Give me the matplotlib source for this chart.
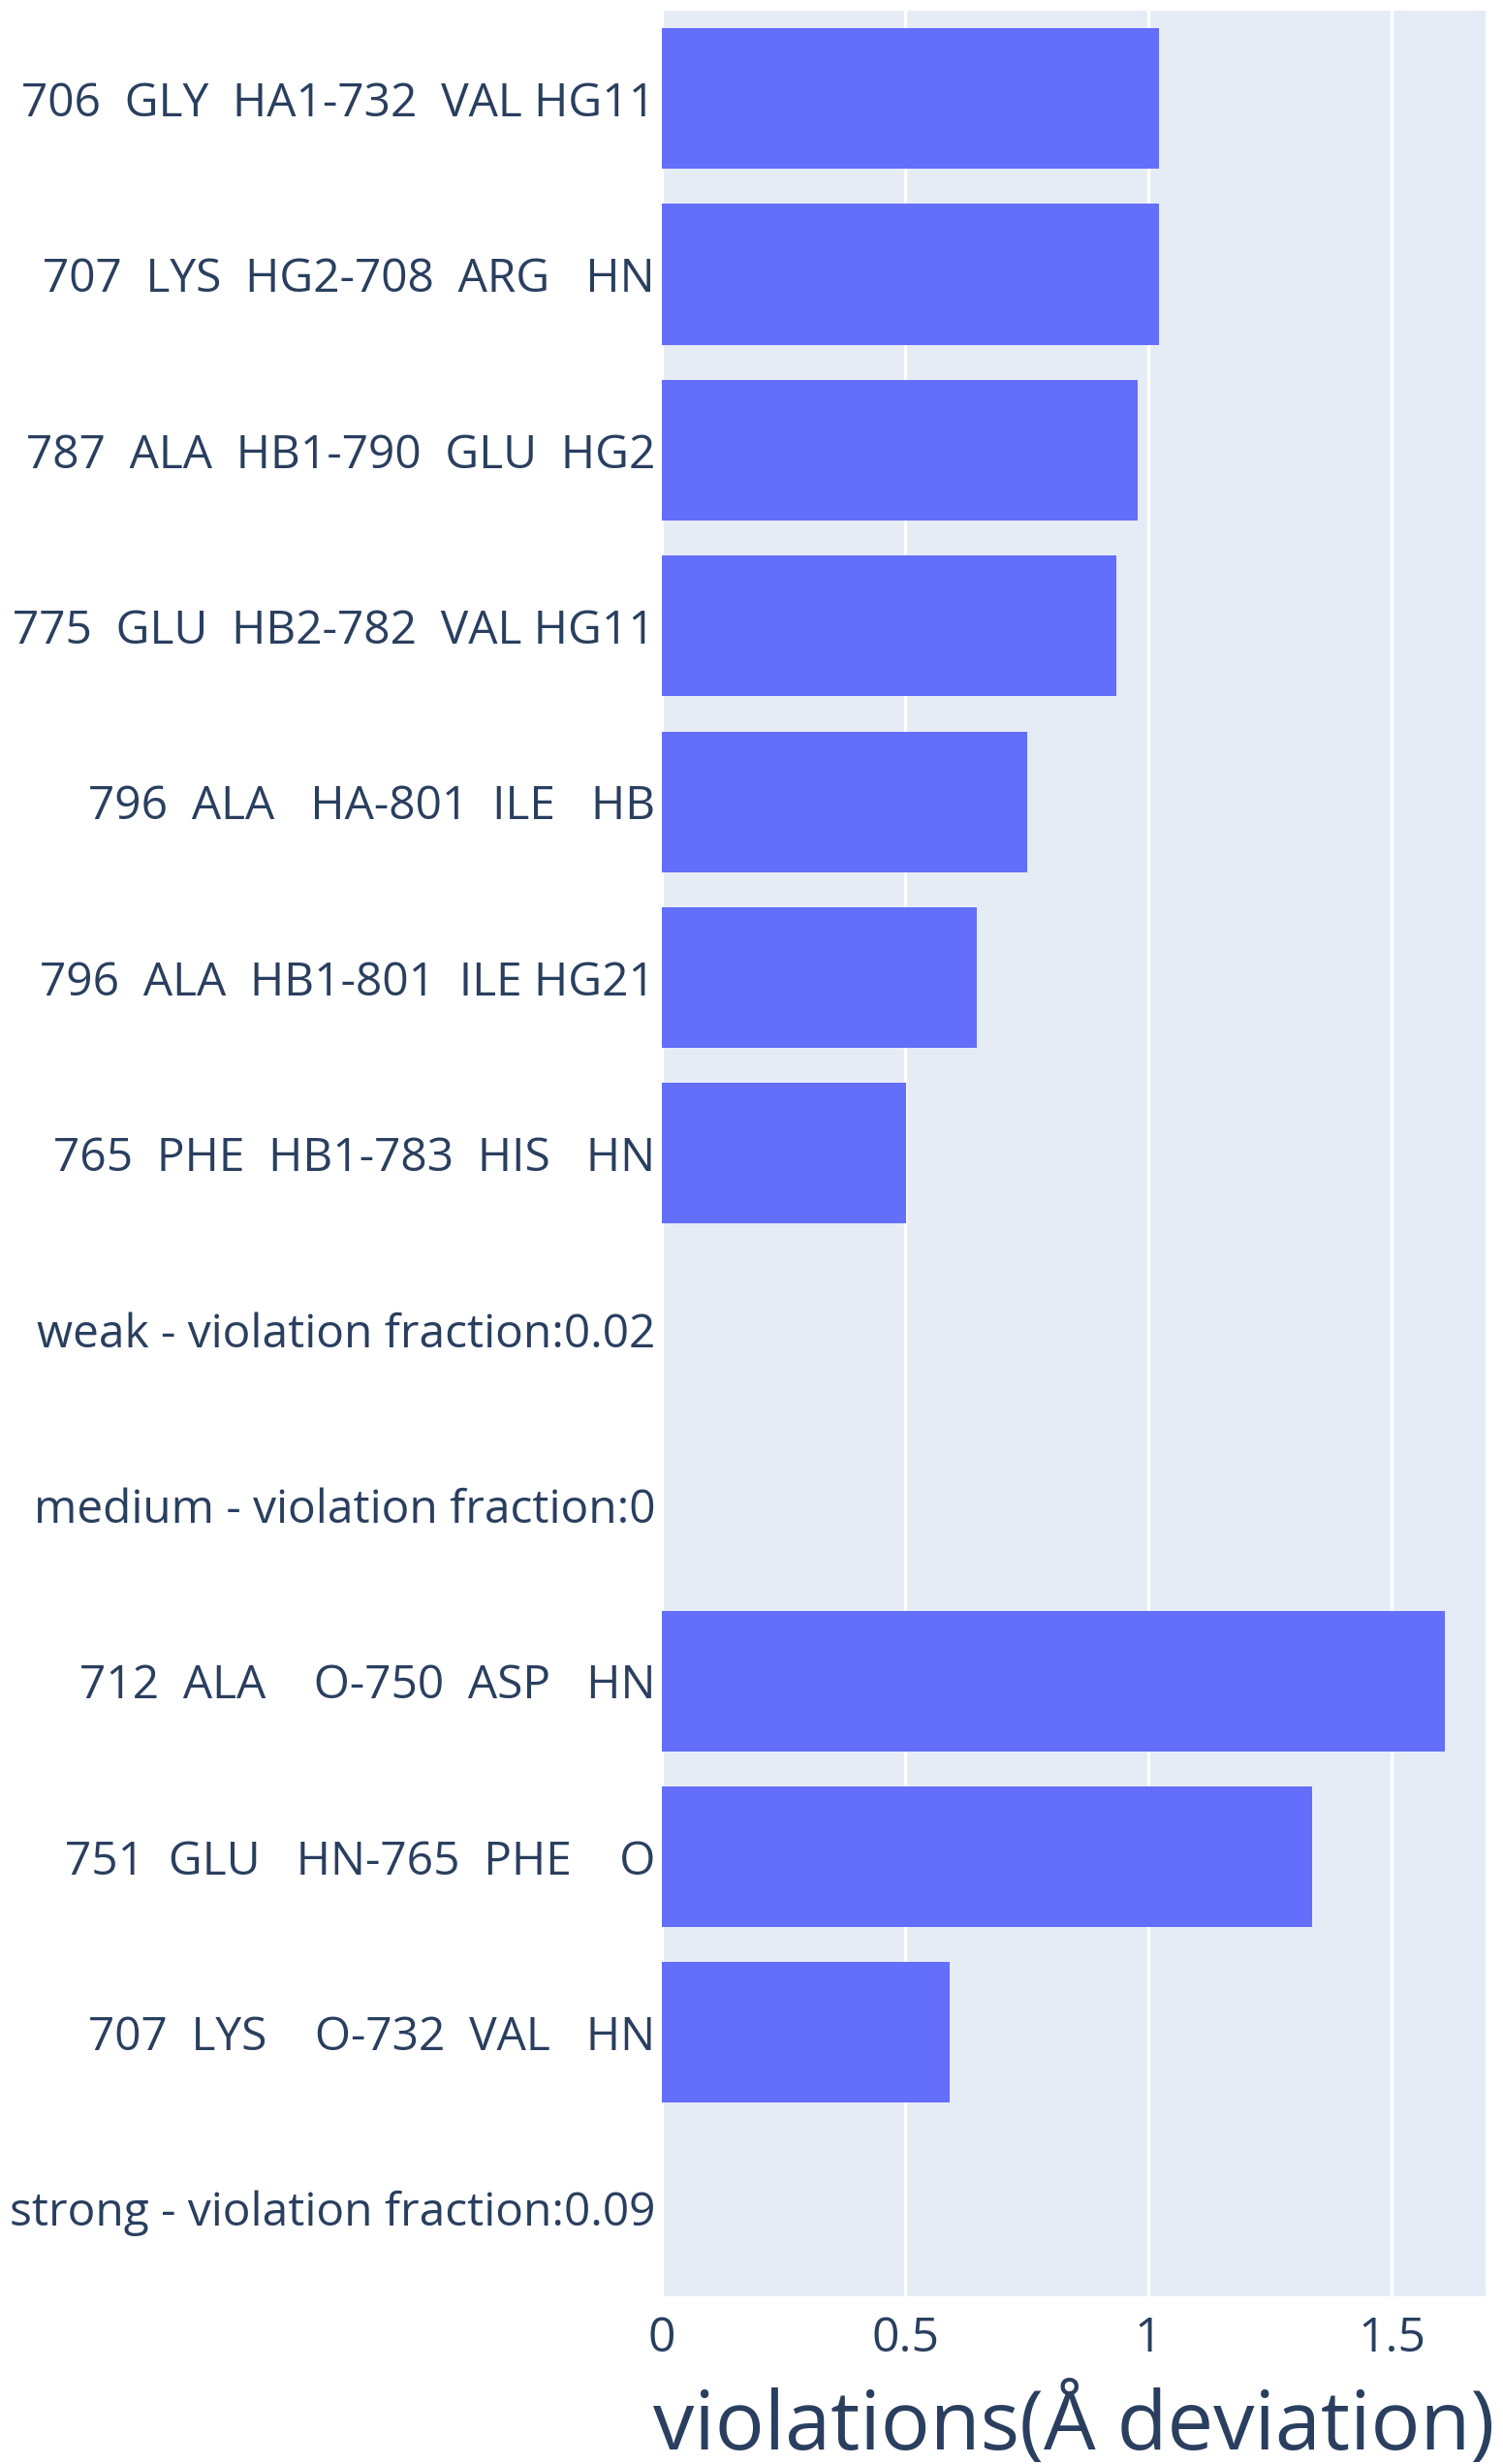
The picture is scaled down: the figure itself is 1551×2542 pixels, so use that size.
import numpy as np
import matplotlib
matplotlib.use("Agg")
import matplotlib.pyplot as plt

plt.rcParams['font.family'] = ['Open Sans', 'DejaVu Sans']

# categories listed top to bottom
labels = [
    "706  GLY  HA1-732  VAL HG11",
    "707  LYS  HG2-708  ARG   HN",
    "787  ALA  HB1-790  GLU  HG2",
    "775  GLU  HB2-782  VAL HG11",
    "796  ALA   HA-801  ILE   HB",
    "796  ALA  HB1-801  ILE HG21",
    "765  PHE  HB1-783  HIS   HN",
    "weak - violation fraction:0.02",
    "medium - violation fraction:0",
    "712  ALA    O-750  ASP   HN",
    "751  GLU   HN-765  PHE    O",
    "707  LYS    O-732  VAL   HN",
    "strong - violation fraction:0.09",
]
violations = [1.022, 1.021, 0.977, 0.934, 0.751, 0.647, 0.502,
              0, 0, 1.609, 1.336, 0.592, 0]

text_color = "#2a3f5f"

fig = plt.figure(figsize=(15.51, 25.42), dpi=100)
ax = fig.add_axes([0.4404, 0.0681, 0.548, 0.9276])
ax.set_facecolor("#e5ecf6")

y = np.arange(len(labels))
ax.barh(y, violations, height=0.8, color="#636efa", zorder=3)
ax.set_yticks(y)
ax.set_yticklabels(labels)
ax.set_ylim(len(labels) - 0.5, -0.5)
ax.set_xlim(0, 1.693)
ax.set_xticks([0, 0.5, 1, 1.5])
ax.set_xticklabels(["0", "0.5", "1", "1.5"])

ax.grid(axis="x", color="white", linewidth=2.5, zorder=1)
ax.set_axisbelow(True)
for s in ax.spines.values():
    s.set_visible(False)
ax.tick_params(axis="y", length=0, pad=5, labelsize=34.5, labelcolor=text_color)
ax.tick_params(axis="x", length=0, pad=14, labelsize=36, labelcolor=text_color)

ax.set_xlabel("violations(Å deviation)", fontsize=61, color=text_color, labelpad=16)

fig.savefig("out.png", dpi=100, facecolor="white")
